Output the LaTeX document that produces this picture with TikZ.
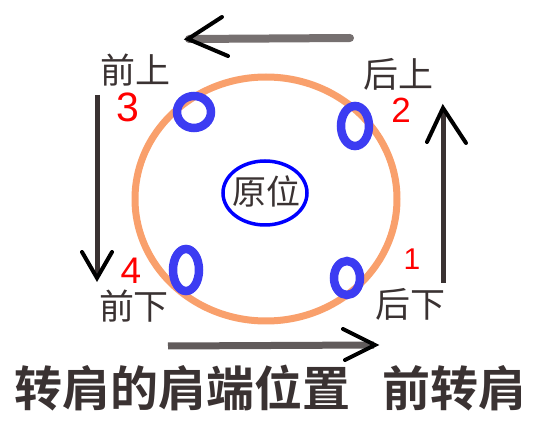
\documentclass[tikz,border=0pt]{standalone}
\usepackage{fontspec}
\newfontfamily\cjk{Noto Sans CJK SC}
\newfontfamily\cjkbold{Noto Sans CJK SC Bold}
\newfontfamily\numfont{Liberation Sans}
\usepackage{tikz}
\usetikzlibrary{positioning}
\definecolor{ring}{HTML}{F9A06C}
\definecolor{ink}{HTML}{3A3232}
\definecolor{shaftgray}{HTML}{767070}
\definecolor{spotblue}{HTML}{3C3CF2}
\tikzset{every picture/.style={line width=0.75pt}}
\tikzset{
  place/.style={text=ink, inner sep=0pt, font=\cjk\fontsize{35}{35}\selectfont},
  num/.style={text=red, inner sep=0pt},
  spot/.style={draw=spotblue, line width=8.5pt},
  shaft/.style={draw=ink, line width=5pt},
  barb/.style={draw=black, line width=4pt, line cap=round, line join=miter},
}

\begin{document}
\begin{tikzpicture}[x=1pt, y=-1pt]
\useasboundingbox (0,0) rectangle (555,422);
%
\draw[ring, line width=7pt] (266,199) ellipse [x radius=131pt, y radius=122pt];
%
\node[text=ink, inner sep=0pt, font=\cjk\fontsize{34}{34}\selectfont] (o) at (266,191) {原位};
\draw[blue, line width=3.5pt] (265,193) ellipse [x radius=42pt, y radius=32pt];
%
\foreach \Pos/\Rx/\Ry in {%
        {194,112}/17/16,
        {355,126}/14/20,
        {186,270}/13/21,
        {347,278}/13/17%
    }
\draw[spot] (\Pos) ellipse [x radius=\Rx pt, y radius=\Ry pt];
%
\node[place] (fu) at (135,70) {前上};
\node[place] (bu) at (398,74) {后上};
\node[place] (fd) at (134,306) {前下};
\node[place] (bd) at (410,304) {后下};
%
\node[num, font=\numfont\fontsize{41}{41}\selectfont] (3) at (128,107) {3};
\node[num, font=\numfont\fontsize{35}{35}\selectfont] (2) at (401,110) {2};
\node[num, font=\numfont\fontsize{30}{30}\selectfont] (1) at (412,259) {1};
\node[num, font=\numfont\fontsize{37}{37}\selectfont] (4) at (131,271) {4};
%
\coordinate (ts) at (350,38);
\coordinate (tt) at (189,39);
\coordinate (rs) at (443,283);
\coordinate (rt) at (443,109);
\coordinate (ls) at (97,95);
\coordinate (lt) at (97,277);
\coordinate (bs) at (168,346);
\coordinate (bt) at (374,345);
%
\draw[shaft, draw=shaftgray, line width=8pt, line cap=round] (ts) -- (tt);
\draw[shaft] (rs) -- (rt);
\draw[shaft] (ls) -- (lt);
\draw[shaft, draw=ink!80, line width=7pt] (bs) -- (bt);
%
\foreach \Tip/\Left/\Right in {%
        {188,39}/{222,17}/{228,56},
        {443,108}/{427,142}/{466,143},
        {97,278}/{82,252}/{112,252},
        {375,345}/{343,329}/{345,360}%
    }
\draw[barb] (\Left) -- (\Tip) -- (\Right);
%
\node[text=ink, inner sep=0pt, font=\cjkbold\fontsize{48}{48}\selectfont] (title) at (271,388) {转肩的肩端位置\hspace{32pt}前转肩};
\end{tikzpicture}
\end{document}
